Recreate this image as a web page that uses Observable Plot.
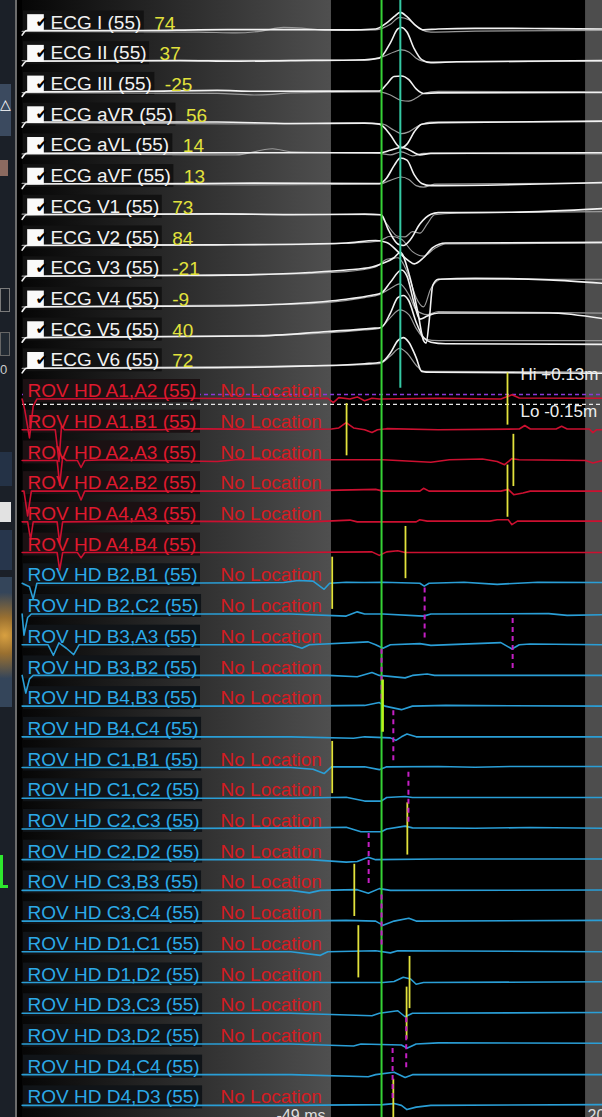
<!DOCTYPE html>
<html><head><meta charset="utf-8">
<script src="https://cdn.jsdelivr.net/npm/d3@7"></script>
<script src="https://cdn.jsdelivr.net/npm/@observablehq/plot@0.6"></script>
<style>
html,body{margin:0;padding:0;background:#000;overflow:hidden;}
#wrap{position:relative;width:602px;height:1117px;}
#panel{position:absolute;left:0;top:0;width:15px;height:1117px;background:#1b2028;border-right:2px solid #6c6c6c;overflow:hidden;}
#panel div{position:absolute;left:0;}
</style></head>
<body><div id="wrap"><div id="chart"></div>
<div id="panel">
 <div style="top:84px;width:11px;height:52px;background:#3b4a5f;color:#fff;font:14px 'DejaVu Sans';line-height:40px;">&#9651;</div>
 <div style="top:160px;width:8px;height:16px;background:#8b6a60;"></div>
 <div style="top:288px;width:8px;height:22px;border:1px solid #7a7a7a;"></div>
 <div style="top:332px;width:8px;height:22px;border:1px solid #666;background:#222a33;"></div>
 <div style="top:362px;color:#ccc;font:13px 'Liberation Sans';">0</div>
 <div style="top:452px;width:12px;height:34px;background:#243246;"></div>
 <div style="top:502px;width:11px;height:20px;background:#e2e2e2;"></div>
 <div style="top:530px;width:12px;height:40px;background:#27364c;"></div>
 <div style="top:577px;width:12px;height:130px;background:radial-gradient(circle at 40% 45%,#d8a040 0,#9a7030 25%,#34455a 60%);"></div>
 <div style="top:855px;width:5px;height:30px;border-left:3px solid #2ee82e;border-bottom:3px solid #2ee82e;"></div>
</div></div>
<script>
// ---------- data ----------
const ecgLeads = ["I","II","III","aVR","aVL","aVF","V1","V2","V3","V4","V5","V6"];
const ecgValues = [74,37,-25,56,14,13,73,84,-21,-9,40,72];
const rovPairs = ["A1,A2","A1,B1","A2,A3","A2,B2","A4,A3","A4,B4","B2,B1","B2,C2","B3,A3","B3,B2","B4,B3","B4,C4",
  "C1,B1","C1,C2","C2,C3","C2,D2","C3,B3","C3,C4","D1,C1","D1,D2","D3,C3","D3,D2","D4,C4","D4,D3"];
const rovNoLocation = [1,1,1,1,1,0, 1,1,1,1,1,0, 1,1,1,1,1,1, 1,1,1,1,0,1];
const sampleCount = 55;
const viewRange = [-132.9, 24.6];   // ms visible
const timeWindow = [-49, 20];       // ms window of interest
const refTime = -35.4;              // reference annotation (ms)
const ecgRefTime = -30.3;           // ECG marker (ms)
const hiThreshold = 0.13, loThreshold = -0.15; // mV

// ECG traces [ms, mV] : current beat and template
const ecgBright = [
 [[-133,-0.15],[-131.8,0],[-100,0],[-85,0.02],[-70,0.03],[-60,0.03],[-45,0.02],[-37,0.05],[-34,0.25],[-32,0.45],[-30.3,0.59],[-28.5,0.45],[-26,0.15],[-24,0.02],[-20,0.05],[-10,0.07],[0,0.07],[10,0.06],[24.6,0.05]],
 [[-133,-0.15],[-131.8,0],[-90,0.02],[-75,0],[-60,0.02],[-40,0.05],[-36,0.1],[-33,0.6],[-31,1.05],[-30,1.1],[-28.5,0.95],[-26.5,0.4],[-24.5,0.05],[-22,-0.05],[-15,-0.02],[24.6,0.02]],
 [[-133,-0.15],[-131.8,0],[-100,0.02],[-80,0.05],[-70,0.02],[-36,0.03],[-34,0.25],[-32,0.5],[-30,0.52],[-28,0.4],[-26,0.1],[-24,-0.05],[-20,-0.03],[24.6,-0.02]],
 [[-133,-0.15],[-131.8,0.02],[-80,0.02],[-60,-0.03],[-40,-0.02],[-36,-0.05],[-33,-0.4],[-31,-0.75],[-30,-0.82],[-28.5,-0.7],[-26.5,-0.3],[-24.5,-0.05],[-20,0],[24.6,0.05]],
 [[-133,-0.15],[-131.8,0],[-70,0.02],[-36,0.02],[-33,0.1],[-30,0.2],[-28,0.12],[-25,-0.05],[-22,0],[24.6,0.02]],
 [[-133,-0.15],[-131.8,0],[-85,0.02],[-70,0.03],[-36,0.02],[-34,0.2],[-32,0.6],[-30.3,0.85],[-28.5,0.78],[-26.5,0.3],[-24.5,0.02],[-22,-0.05],[24.6,0.05]],
 [[-133,-0.15],[-131.8,0],[-80,0.03],[-60,0],[-40,0.02],[-35.5,0],[-33.5,-0.5],[-31,-0.95],[-29.5,-1.0],[-27.5,-0.8],[-25,-0.3],[-22,0.02],[-20,0.07],[0,0.08],[24.6,0.2]],
 [[-133,-0.15],[-131.8,0],[-80,0.02],[-55,0.05],[-45,0.08],[-37,0.16],[-34,0.1],[-30.5,-0.25],[-28,-0.5],[-26.5,-0.6],[-24,-0.4],[-21.5,-0.07],[-18,0.08],[24.6,0.1]],
 [[-133,-0.15],[-131.8,0],[-90,0.02],[-70,0.05],[-55,0.12],[-45,0.2],[-38,0.3],[-35.5,0.4],[-32,0.6],[-30.3,0.78],[-28,0.1],[-25.5,-1.2],[-24,-2.1],[-23.3,-2.18],[-22.5,-1.5],[-21.5,-0.3],[-20,-0.1],[-10,-0.07],[10,-0.12],[24.6,-0.23]],
 [[-133,-0.15],[-131.8,0],[-80,0.03],[-60,0.1],[-45,0.25],[-38,0.38],[-35.5,0.45],[-33,0.8],[-30,1.2],[-28.5,1.0],[-26.5,0.1],[-25,-0.4],[-23,-0.3],[-20,-0.2],[10,-0.2],[24.6,-0.38]],
 [[-133,-0.15],[-131.8,0],[-70,0.05],[-50,0.2],[-38,0.3],[-35.5,0.33],[-33,0.8],[-31,1.3],[-29.5,1.37],[-28,1.2],[-26,0.5],[-24,0],[-22,-0.15],[-18,-0.2],[24.6,-0.22]],
 [[-133,-0.15],[-131.8,0],[-80,0.02],[-55,0.08],[-40,0.15],[-35.5,0.2],[-33,0.5],[-31,0.9],[-29.5,1.0],[-28,0.85],[-26,0.35],[-24.5,-0.1],[-22,-0.13],[24.6,-0.16]]
];
const ecgTemplate = [
 [[-133,-0.03],[-85,-0.05],[-75,-0.08],[-68,-0.02],[-62,0.1],[-57,0.08],[-50,0],[-37,0.02],[-33,0.2],[-30.5,0.43],[-28,0.35],[-25,0.05],[-22,-0.05],[-10,-0.02],[24.6,0]],
 [[-133,0.02],[-40,0.03],[-35,0.15],[-32,0.3],[-30,0.37],[-28,0.3],[-26,0.1],[-23,-0.02],[24.6,0]],
 [[-133,-0.02],[-80,-0.05],[-70,-0.1],[-65,-0.08],[-60,-0.03],[-36,0],[-33,-0.1],[-30,-0.28],[-28,-0.3],[-26,-0.2],[-24,-0.05],[-20,0.02],[24.6,0]],
 [[-133,0],[-70,-0.04],[-60,-0.04],[-40,0],[-35,-0.05],[-32,-0.25],[-30,-0.36],[-28,-0.3],[-25,-0.08],[-22,0.02],[24.6,0.03]],
 [[-133,-0.02],[-75,-0.05],[-65,0.15],[-60,0.05],[-36,0],[-33,-0.05],[-30,0.05],[-27,-0.08],[-24,0],[24.6,-0.02]],
 [[-133,0.02],[-70,-0.03],[-36,0],[-33,0.12],[-30,0.23],[-28,0.15],[-26,-0.05],[-24,-0.1],[-21,0],[24.6,0.03]],
 [[-133,0.02],[-60,0.02],[-36,0],[-34,-0.3],[-31,-0.7],[-29,-0.72],[-27,-0.55],[-25,-0.6],[-23,-0.3],[-21,0],[-15,0.05],[24.6,0.1]],
 [[-133,0],[-60,0.03],[-40,0.1],[-36,0.15],[-33,0.3],[-30,0.2],[-27,-0.2],[-24,-0.35],[-21,-0.1],[-18,0.05],[24.6,0.08]],
 [[-133,0],[-70,0.05],[-45,0.15],[-37,0.3],[-34,0.55],[-31,0.6],[-28,0],[-26,-0.7],[-24,-1.0],[-22,-0.4],[-19,-0.1],[24.6,-0.1]],
 [[-133,0],[-60,0.08],[-40,0.3],[-36,0.4],[-33,0.6],[-30.5,0.75],[-28,0.4],[-26,-0.1],[-23,-0.25],[-20,-0.15],[24.6,-0.2]],
 [[-133,0],[-60,0.1],[-40,0.25],[-36,0.3],[-33,0.65],[-30.5,0.9],[-28,0.75],[-26,0.3],[-23.5,-0.05],[-20,-0.1],[24.6,-0.1]],
 [[-133,0],[-50,0.08],[-36,0.15],[-33,0.4],[-30.5,0.65],[-28.5,0.5],[-26,0.1],[-24,-0.1],[24.6,-0.12]]
];
// ROV HD bipolar traces [ms, mV]
const rovTraces = [
 [[-133,0],[-132.3,-0.3],[-131,-1.1],[-130,-0.2],[-129,0],[-90,0.02],[-60,0],[-50,0.02],[-48.5,-0.1],[-47,0.04],[-44,0],[-42,0.06],[-40,-0.05],[-38,0.02],[-36,0],[-20,0.02],[-3,0],[0,0.12],[2,0.03],[24.6,0.02]],
 [[-133,0],[-124,0],[-123,-0.9],[-122.3,0.1],[-121.5,0],[-95,0],[-90,0.03],[-60,0],[-49,0.02],[-47,0.05],[-45,0.2],[-43,0.05],[-40,0],[-38,-0.08],[-36.5,0],[-34,0.03],[-20,0],[2,0.02],[3.5,0.12],[5,0.02],[12,0.02],[13.5,0.1],[15,0.02],[21,0.02],[22,-0.08],[23,0],[24.6,0]],
 [[-133,0],[-123.5,0],[-122.8,-0.7],[-122,0.1],[-121,0],[-118,0],[-117,-0.2],[-116,0],[-110,0.02],[-80,-0.03],[-75,0.02],[-35,0.02],[-22,-0.05],[-17,0.02],[-8,0.04],[-4,-0.03],[-2,-0.12],[0,0.05],[2,0.02],[20,0],[22,-0.07],[24.6,0]],
 [[-133,0],[-132.5,0],[-131.5,-0.7],[-130.5,0],[-118,0],[-117,-0.25],[-116,0],[-60,0],[-37,0.05],[-35,0],[-25,0],[-24,0.08],[-22.5,0],[-3,0],[-1,0.05],[0.5,-0.1],[3,-0.05],[5,0],[24.6,0]],
 [[-133,0],[-131.5,0],[-130.7,-0.5],[-130,0],[-123.5,0],[-122.8,-0.6],[-122,0],[-100,0.02],[-55,0],[-44,0.05],[-42,0],[-26,0],[-25,0.06],[-23,0.02],[-6,0.02],[-4,0.06],[-1,0.06],[0,-0.08],[1.5,0.02],[24.6,0.02]],
 [[-133,0],[-123.5,0],[-122.8,-0.5],[-122,0],[-118,0],[-117,-0.15],[-116,0],[-60,0],[-38,0.02],[-36,-0.08],[-34,0.02],[-31,0.05],[-29,0],[24.6,0]],
 [[-133,0],[-131,-0.1],[-130,-0.45],[-129,0],[-100,0],[-62,0.02],[-58,0.08],[-54,0.06],[-51,-0.17],[-49.5,0],[-45,0.03],[-40,0.02],[-35,0.03],[-25,0],[-23.8,-0.08],[-22.5,0],[-13,0.03],[-4,-0.03],[7,0.03],[24.6,0.02]],
 [[-133,0],[-132.5,-0.6],[-131.5,-0.1],[-130.5,0],[-60,0],[-45,-0.06],[-42,0.06],[-40,0],[-35,0],[-24,-0.06],[-22,0],[10,0.01],[15,-0.04],[24.6,-0.02]],
 [[-133,0],[-126,0],[-124.5,-0.3],[-123,0.05],[-121,-0.1],[-119,-0.28],[-117.5,0],[-60,0],[-57,-0.1],[-55,0],[-39,0.08],[-37,0],[-35,-0.1],[-33,0],[-25,0.03],[-22,-0.02],[-3,0.06],[0,-0.12],[2,0],[5,0.02],[24.6,0]],
 [[-133,0],[-132,-0.5],[-131,-0.1],[-130,0],[-50,0],[-42,-0.04],[-38,0.08],[-36,0],[-29,-0.07],[-27,0],[-23,0.04],[-21,0],[24.6,0]],
 [[-133,0],[-60,0],[-40,0.02],[-36,0.1],[-34.5,0],[-30,-0.1],[-27,0],[-18,0.02],[24.6,0]],
 [[-133,0],[-60,0],[-43,-0.04],[-40,0],[-33,-0.03],[-31.5,-0.1],[-30,0],[-28.5,0.08],[-26,0],[24.6,0]],
 [[-133,0],[-60,0],[-54,-0.05],[-51,-0.17],[-49,0.02],[-40,0.02],[-36,-0.06],[-34,0.02],[-20,0.03],[-10,0.01],[0,0.03],[24.6,0.03]],
 [[-133,0],[-60,0],[-45,0.03],[-40,-0.08],[-35.5,-0.08],[-34,0.02],[-29,0.05],[-27,0.02],[24.6,0.02]],
 [[-133,0],[-55,0.03],[-45,0.05],[-41,-0.08],[-35.5,-0.08],[-34,0],[-29,0.08],[-27,0.03],[-10,0.02],[5,0.04],[24.6,0.02]],
 [[-133,0],[-55,0],[-45,-0.07],[-42,-0.05],[-39,0.07],[-37,0],[-20,0.02],[24.6,0.02]],
 [[-133,0],[-60,0],[-55,-0.07],[-52,0],[-42,0.02],[-39,-0.08],[-36,0.05],[-33,0],[24.6,0.01]],
 [[-133,0],[-60,0],[-45,0.02],[-37,0],[-35,-0.12],[-32,0],[-28,0.08],[-26,0],[24.6,0.02]],
 [[-133,0],[-60,0],[-52,-0.1],[-50,0],[-37,0.03],[-33,-0.03],[-31,0.03],[24.6,0]],
 [[-133,0],[-60,0],[-35,0],[-32,0.03],[-29.5,0.15],[-27.5,0.1],[-26,-0.05],[-24,0],[24.6,0.02]],
 [[-133,0],[-60,0],[-38,-0.07],[-36,0],[-31,0.07],[-29,-0.1],[-27,0],[24.6,0.02]],
 [[-133,0],[-60,0],[-43,-0.06],[-41,0],[-30,-0.03],[-28.5,-0.12],[-26,0],[-20,0.03],[24.6,0.02]],
 [[-133,0],[-60,0],[-39,-0.06],[-37,0],[-32,0.07],[-29,-0.08],[-27,0],[24.6,0]],
 [[-133,0],[-60,0],[-35,0.02],[-32,0.05],[-30,0],[-28.5,-0.12],[-26,-0.05],[-22,0],[24.6,0.02]]
];
// annotations: [pair, ms]
const latMarkers = [["A1,A2",-1.2],["A1,B1",-44.9],["A2,A3",0.4],["A2,B2",-1.2],["A4,B4",-28.9],["B2,B1",-48.8],
  ["C1,B1",-48.8],["C2,C3",-28.4],["C3,B3",-42.8],["D1,C1",-41.7],["D1,D2",-27.8],["D3,C3",-28.6],["D4,D3",-32.2]];
const refLatMarkers = [["B4,B3",-35.1]];
const dashMarkers = [["B2,C2",-23.7],["B3,A3",0.2],["B3,B2",-35.4],["B4,C4",-32.2],["C1,C2",-28.1],["C2,D2",-38.9],
  ["C3,C4",-35.4],["D3,D2",-28.7],["D4,C4",-32.4]];

// ---------- build ----------
const W = 602, H = 1117, ML = 22;
const ecgGain = 1.0, rovGain = 1.15;
const nE = ecgLeads.length;
const rowH = 30.71, topRow = -30/rowH, botRow = (H-30)/rowH;
const FONT = "Liberation Sans, Arial, sans-serif";
const ctx = document.createElement("canvas").getContext("2d");
ctx.font = "19px 'Liberation Sans'";
const tw = s => ctx.measureText(s).width;
const xs = Plot.scale({x:{domain:viewRange, range:[ML, W]}});

const ecgTextDx = 28, rovTextDx = 5, labelDy = -8;
const rows = [
  ...ecgLeads.map((l,i)=>({row:i, label:`ECG ${l} (${sampleCount})`, value:ecgValues[i]})),
  ...rovPairs.map((p,j)=>({row:nE+j, pair:p, label:`ROV HD ${p} (${sampleCount})`, red:p[0]==="A", noLoc:!!rovNoLocation[j]}))
];
rows.forEach(r => {
  const start = r.row < nE ? ecgTextDx : rovTextDx;
  r.bx1 = xs.invert(ML + 1);
  r.bx2 = xs.invert(ML + start + tw(r.label) + 3);
  r.by1 = r.row + (labelDy - 11.5)/rowH;
  r.by2 = r.row + (labelDy + 11.5)/rowH;
});
const ecgRows = rows.slice(0,nE), rovRows = rows.slice(nE);
const rowOf = p => nE + rovPairs.indexOf(p);
const flat = (arr, gain, kind, base=0) => arr.flatMap((tr,i)=>tr.map(([t,v])=>({s:kind+i, red: kind==="r" && rovPairs[i][0]==="A", t, y:base+i - v*gain})));
const ptsGray = flat(ecgTemplate, ecgGain, "g");
const ptsBright = flat(ecgBright, ecgGain, "b");
const ptsRov = flat(rovTraces, rovGain, "r", nE);
const ptsRed = ptsRov.filter(d=>d.red), ptsBlue = ptsRov.filter(d=>!d.red);
const mk = a => a.map(([p,t])=>({t, row:rowOf(p)}));
const halfLen = 0.85;
const yellow = "#e2e23c", magenta = "#c41fc4";
const rowA = rowOf("A1,A2");

const marks = [
  Plot.rect([{x1:viewRange[0], x2:timeWindow[0]}], {x1:"x1", x2:"x2", fill:"url(#bggrad)"}),
  Plot.rect([{x1:timeWindow[1], x2:viewRange[1]}], {x1:"x1", x2:"x2", fill:"#4d4d4d"}),
  Plot.ruleY([rowA - hiThreshold*rovGain], {stroke:"#8a3ad8", strokeDasharray:"4,3", strokeWidth:1.5}),
  // label boxes
  Plot.rect(ecgRows, {x1:"bx1", x2:"bx2", y1:"by1", y2:"by2", fill:"#121212"}),
  Plot.rect(rovRows, {x1:"bx1", x2:"bx2", y1:"by1", y2:"by2", fill:d=>d.red?"#1b1113":"#101418"}),
  Plot.ruleY([rowA - loThreshold*rovGain], {stroke:"#e8e8e8", strokeDasharray:"4,3", strokeWidth:1.3}),
  Plot.text(rovRows.filter(d=>d.noLoc), {y:"row", text:()=> "No Location", frameAnchor:"left", textAnchor:"start", dx:198, dy:labelDy, fontSize:19, fontFamily:FONT, fill:"#d41c22"}),
  // traces
  Plot.line(ptsGray, {x:"t", y:"y", z:"s", stroke:"#9a9a9a", strokeWidth:1.2, curve:"monotone-x"}),
  Plot.line(ptsBright, {x:"t", y:"y", z:"s", stroke:"#f2f2f2", strokeWidth:1.6, curve:"monotone-x"}),
  Plot.line(ptsRed, {x:"t", y:"y", z:"s", stroke:"#cc1030", strokeWidth:1.6}),
  Plot.line(ptsBlue, {x:"t", y:"y", z:"s", stroke:"#2a9ed6", strokeWidth:1.6}),
  // reference lines
  Plot.ruleX([ecgRefTime], {y1:topRow, y2:nE-0.35, stroke:"#35c9a4", strokeWidth:2}),
  Plot.ruleX([refTime], {stroke:"#36d236", strokeWidth:2}),
  // annotations
  Plot.ruleX(mk(latMarkers), {x:"t", y1:d=>d.row-halfLen, y2:d=>d.row+halfLen, stroke:yellow, strokeWidth:1.8}),
  Plot.ruleX(mk(dashMarkers), {x:"t", y1:d=>d.row-halfLen, y2:d=>d.row+halfLen, stroke:magenta, strokeWidth:2, strokeDasharray:"5,4"}),
  Plot.ruleX(mk(refLatMarkers), {x:"t", y1:d=>d.row-halfLen, y2:d=>d.row+halfLen, stroke:"#b8f41c", strokeWidth:2.5}),
  // labels
  Plot.dot(ecgRows, {y:"row", frameAnchor:"left", dx:13, dy:labelDy, symbol:"square", r:9.4, fill:"#fafafa"}),
  Plot.text(ecgRows, {y:"row", text:()=>"\u2714", frameAnchor:"left", dx:13, dy:labelDy, fontSize:15, fontFamily:"DejaVu Sans", fill:"#000"}),
  Plot.text(ecgRows, {y:"row", text:"label", frameAnchor:"left", textAnchor:"start", dx:ecgTextDx, dy:labelDy, fontSize:19, fontFamily:FONT, fill:"#f2f2f2"}),
  ...ecgRows.map(r => Plot.text([r], {y:"row", text:d=>String(d.value), frameAnchor:"left", textAnchor:"start", dx:ecgTextDx+tw(r.label)+13, dy:labelDy+1, fontSize:19, fontFamily:FONT, fill:yellow})),
  Plot.text(rovRows, {y:"row", text:"label", frameAnchor:"left", textAnchor:"start", dx:rovTextDx, dy:labelDy, fontSize:19, fontFamily:FONT, fill:d=>d.red?"#e0192e":"#2caae8"}),
  // threshold labels
  Plot.text([{y:rowA-0.8, s:`Hi +${hiThreshold}m`},{y:rowA+0.41, s:`Lo ${loThreshold}m`}], {y:"y", text:"s", frameAnchor:"right", textAnchor:"start", dx:-82, fontSize:17, fontFamily:FONT, fill:"#eeeeee"}),
  // window labels
  Plot.text([timeWindow[0]], {x:d=>d, text:d=>`${d} ms`, frameAnchor:"bottom", textAnchor:"end", dx:-6, dy:3, fontSize:16, fontFamily:FONT, fill:"#dddddd"}),
  Plot.text([timeWindow[1]], {x:d=>d, text:d=>`${d}`, frameAnchor:"bottom", textAnchor:"start", dx:2, dy:3, fontSize:16, fontFamily:FONT, fill:"#dddddd"})
];

const svg = Plot.plot({
  width:W, height:H, marginLeft:ML, marginRight:0, marginTop:0, marginBottom:0,
  x:{domain:viewRange, axis:null},
  y:{domain:[topRow, botRow], range:[0,H], axis:null},
  style:{background:"#000", color:"#fff", fontFamily:FONT, overflow:"hidden"},
  marks
});
const defs = d3.select(svg).insert("defs", ":first-child");
const g = defs.append("linearGradient").attr("id","bggrad").attr("x1",0).attr("x2",1).attr("y1",0).attr("y2",0);
g.append("stop").attr("offset",0).attr("stop-color","#060606");
g.append("stop").attr("offset",1).attr("stop-color","#4f4f4f");
document.getElementById("chart").appendChild(svg);
</script></body></html>
